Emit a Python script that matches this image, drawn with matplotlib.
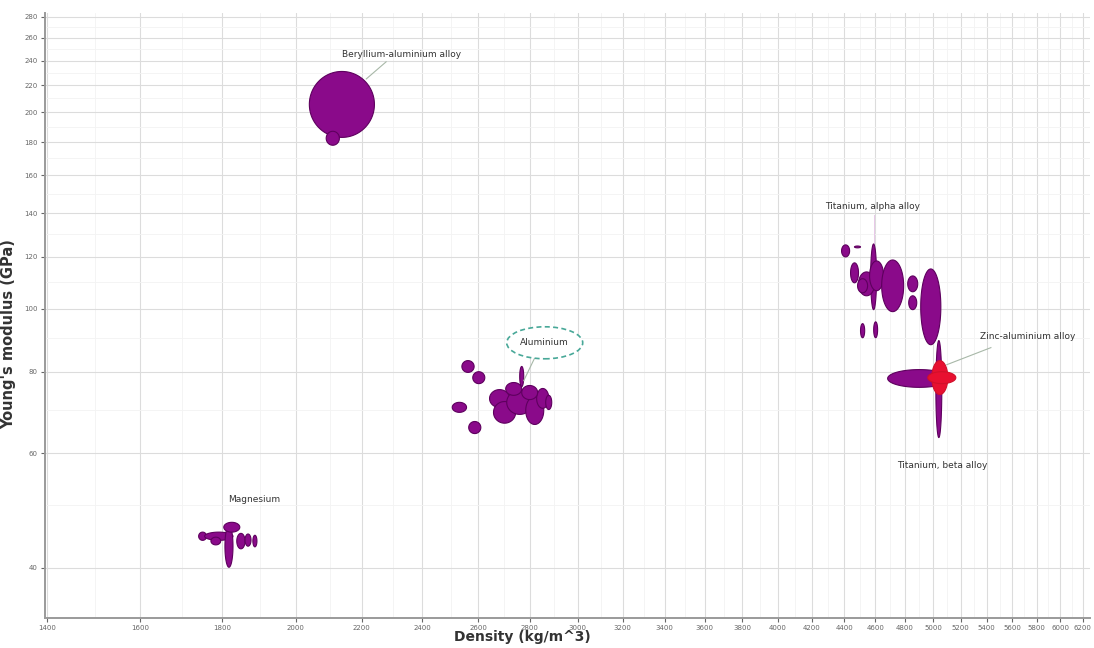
import numpy as np
import matplotlib
matplotlib.use("Agg")
import matplotlib.pyplot as plt
from matplotlib.patches import Ellipse
from matplotlib.ticker import FixedLocator, NullFormatter

# property ranges of each grade: (density lo, density hi, modulus lo, modulus hi)
magnesium = [
    (1740, 1760, 44.1, 45.4),
    (1755, 1828, 44.1, 45.4),
    (1771, 1796, 43.4, 44.6),
    (1807, 1828, 40.1, 46.5),
    (1804, 1846, 45.4, 47.0),
    (1838, 1860, 42.8, 45.2),
    (1860, 1876, 43.2, 45.1),
    (1881, 1892, 43.1, 44.9),
]
beryllium_al = [
    (2040, 2240, 183, 231),
    (2090, 2130, 178, 187),
]
aluminium = [
    (2540, 2585, 79.8, 83.2),
    (2580, 2625, 76.7, 80.0),
    (2505, 2557, 69.3, 71.8),
    (2565, 2610, 64.3, 67.1),
    (2643, 2720, 70.5, 75.1),
    (2658, 2744, 66.7, 72.0),
    (2709, 2812, 68.8, 74.9),
    (2784, 2857, 66.4, 73.3),
    (2828, 2878, 70.3, 75.4),
    (2865, 2890, 70.0, 73.6),
    (2760, 2776, 75.9, 81.5),
    (2705, 2768, 73.6, 77.0),
    (2768, 2832, 72.5, 76.2),
]
titanium_alpha = [
    (4383, 4434, 120.0, 125.2),
    (4465, 4504, 123.9, 124.7),
    (4440, 4491, 109.5, 117.5),
    (4570, 4609, 99.6, 125.6),
    (4491, 4596, 104.6, 113.8),
    (4563, 4656, 106.5, 118.3),
    (4485, 4550, 105.7, 111.1),
    (4643, 4792, 98.9, 118.7),
    (4820, 4890, 106.1, 112.2),
    (4827, 4883, 99.6, 104.6),
    (4911, 5055, 88.0, 115.0),
    (4504, 4531, 90.2, 94.8),
    (4590, 4616, 90.2, 95.4),
]
titanium_beta = [
    (4683, 5128, 75.7, 80.6),
    (5019, 5062, 63.4, 89.3),
]
zinc_al = [
    (4990, 5106, 73.8, 83.2),
    (4961, 5165, 76.7, 80.0),
]

x_ticks = list(range(1400, 6400, 200))
y_ticks = list(range(40, 300, 20))

PURPLE = "#8a0a8a"
EDGE = "#5e005e"
RED = "#e81030"
LEADER = "#a8b8a8"


def family(ax, rows, color, edge):
    t = np.linspace(0, 2 * np.pi, 120)
    for r0, r1, e0, e1 in rows:
        lx = (np.log(r0) + np.log(r1)) / 2
        ly = (np.log(e0) + np.log(e1)) / 2
        hx = (np.log(r1) - np.log(r0)) / 2
        hy = (np.log(e1) - np.log(e0)) / 2
        ax.fill(np.exp(lx + hx * np.cos(t)), np.exp(ly + hy * np.sin(t)),
                facecolor=color, edgecolor=edge, lw=0.8, zorder=3)


fig = plt.figure(figsize=(10.94, 6.48), dpi=100)
ax = fig.add_axes([0.041, 0.046, 0.955, 0.934])
ax.set_xscale("log")
ax.set_yscale("log")
ax.set_xlim(1395, 6260)
ax.set_ylim(33.5, 284)

ax.xaxis.set_major_locator(FixedLocator(x_ticks))
ax.xaxis.set_minor_locator(FixedLocator([v + 100 for v in x_ticks]))
ax.yaxis.set_major_locator(FixedLocator(y_ticks))
ax.yaxis.set_minor_locator(FixedLocator([v + 10 for v in y_ticks]))
ax.set_xticklabels([str(v) for v in x_ticks])
ax.set_yticklabels([str(v) for v in y_ticks])
ax.xaxis.set_minor_formatter(NullFormatter())
ax.yaxis.set_minor_formatter(NullFormatter())
ax.tick_params(which="major", labelsize=5, colors="#666666", length=3, width=0.8, pad=2)
ax.tick_params(which="minor", length=0)

ax.grid(which="major", color="#dcdcdc", lw=0.8)
ax.grid(which="minor", color="#f3f3f3", lw=0.6)
ax.set_axisbelow(True)
for s in ["top", "right"]:
    ax.spines[s].set_visible(False)
for s in ["left", "bottom"]:
    ax.spines[s].set_color("#9a9a9a")
    ax.spines[s].set_linewidth(1.4)

family(ax, magnesium, PURPLE, EDGE)
family(ax, beryllium_al, PURPLE, EDGE)
family(ax, aluminium, PURPLE, EDGE)
family(ax, titanium_alpha, PURPLE, EDGE)
family(ax, titanium_beta, PURPLE, EDGE)
family(ax, zinc_al, RED, "#d0102a")

lab = dict(fontsize=6.5, color="#333333", ha="center", va="center", zorder=5)
ax.text(2328, 245, "Beryllium-aluminium alloy", **lab)
ax.plot([2278, 2214], [239, 225], color=LEADER, lw=0.8, zorder=4)
ax.text(1884, 51.0, "Magnesium", **lab)
ax.text(4583, 143.6, "Titanium, alpha alloy", **lab)
ax.plot([4590, 4590], [139, 126], color="#e8c8e8", lw=0.7, zorder=2)
ax.text(5730, 90.5, "Zinc-aluminium alloy", **lab)
ax.plot([5432, 5098], [87.1, 82.0], color=LEADER, lw=0.8, zorder=4)
ax.text(5069, 57.5, "Titanium, beta alloy", **lab)

# speech bubble for the aluminium cluster
ax.plot([2830, 2776], [85.5, 77.5], color=LEADER, lw=0.8, zorder=4)
bx, by = ax.transData.transform((2861, 88.6))
bubble = Ellipse(ax.transAxes.inverted().transform((bx, by)), 76 / (0.955 * 1094), 32 / (0.934 * 648),
                 transform=ax.transAxes, facecolor="white", edgecolor="#48a898",
                 lw=1.2, ls=(0, (3, 2)), zorder=5)
ax.add_patch(bubble)
ax.text(2861, 88.6, "Aluminium", **{**lab, "zorder": 6})

ax.set_xlabel("Density (kg/m^3)", fontsize=10, fontweight="bold", color="#333333")
ax.xaxis.set_label_coords(0.457, -0.02)
ax.set_ylabel("Young's modulus (GPa)", fontsize=10.5, fontweight="bold", color="#333333")
ax.yaxis.set_label_coords(-0.027, 0.47)

fig.savefig("out.png", dpi=100)
